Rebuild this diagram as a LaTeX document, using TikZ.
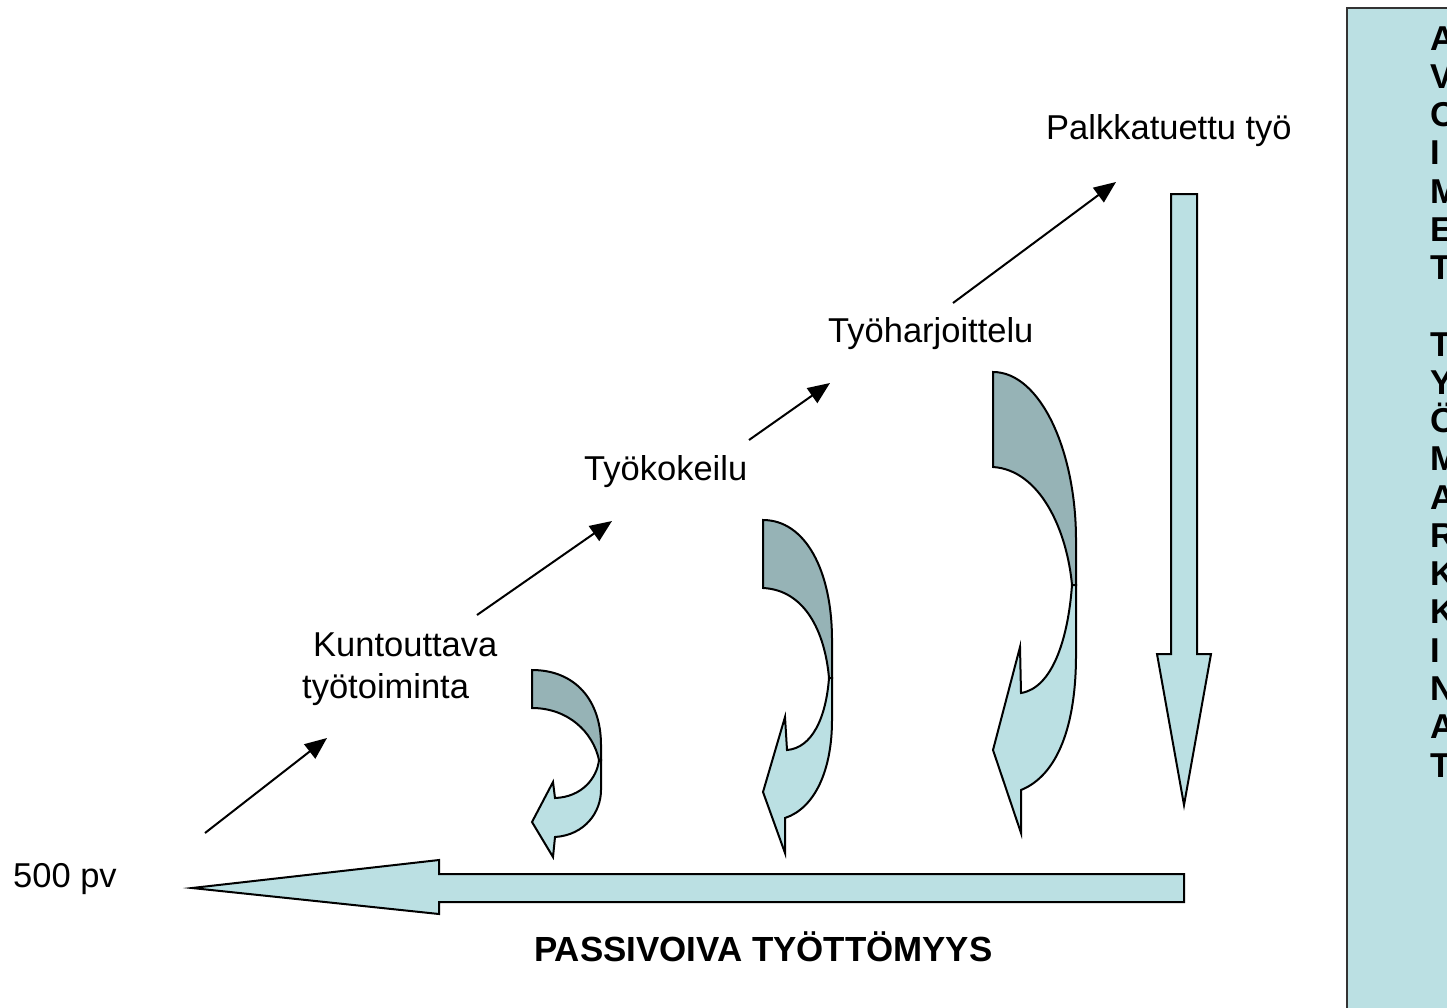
\documentclass[tikz,border=0pt]{standalone}
\usepackage{fontspec}
\setmainfont{Liberation Sans}
\usetikzlibrary{arrows.meta}
\definecolor{lightband}{RGB}{187,224,227}
\definecolor{darkband}{RGB}{150,179,182}
\tikzset{
  lbl/.style={anchor=base west, inner sep=0pt, font=\fontsize{34.5}{39}\selectfont},
  thinarrow/.style={line width=2pt, -{Triangle[length=22pt,width=18pt]}},
  blockarrow/.style={fill=lightband, draw=black, line width=2pt, line join=miter},
  backband/.style={fill=darkband, draw=black, line width=2pt},
}
\begin{document}
\begin{tikzpicture}[x=1pt,y=-1pt]
\clip (0,0) rectangle (1447,1007);
\fill[white] (0,0) rectangle (1447,1007);

% right panel
\draw[fill=lightband, draw=black!80, line width=2pt] (1347,8) rectangle (1470,1030);
\node[anchor=base west, inner sep=0pt, align=left,
      font=\fontsize{34.5}{38.26}\selectfont\bfseries] (panel) at (1430,777)
  {A\\V\\O\\I\\M\\E\\T\\[38.26pt]T\\Y\\Ö\\M\\A\\R\\K\\K\\I\\N\\A\\T};

% labels
\node[lbl] (palkka) at (1046,139) {Palkkatuettu työ};
\node[lbl] (harj) at (828,342) {Työharjoittelu};
\node[lbl] (kokeilu) at (584,480) {Työkokeilu};
\node[lbl, align=left, font=\fontsize{34.5}{42}\selectfont] (kunto) at (302,698) {\hspace{11pt}Kuntouttava\\työtoiminta};
\node[lbl] (pv) at (13,887) {500 pv};
\node[lbl, font=\fontsize{34.9}{39}\selectfont\bfseries] (passiv) at (534,961) {PASSIVOIVA TYÖTTÖMYYS};

% thin arrows
\coordinate (s1) at (205,833); \coordinate (e1) at (327,738);
\coordinate (s2) at (477,615); \coordinate (e2) at (612,521);
\coordinate (s3) at (749,440); \coordinate (e3) at (830,383);
\coordinate (s4) at (953,303); \coordinate (e4) at (1116,182);
\draw[thinarrow] (s1) -- (e1);
\draw[thinarrow] (s2) -- (e2);
\draw[thinarrow] (s3) -- (e3);
\draw[thinarrow] (s4) -- (e4);

% horizontal block arrow
\draw[blockarrow] (1184,874) -- (439,874) -- (439,860) -- (192,888) -- (439,914) -- (439,902) -- (1184,902) -- cycle;

% vertical block arrow
\draw[blockarrow] (1171,194) -- (1197,194) -- (1197,654) -- (1211,654) -- (1184,805) -- (1157,654) -- (1171,654) -- cycle;

% curved arrow 1
\draw[backband] (532,670) -- (532,708) .. controls (568,708) and (593,732) .. (599,760)
  -- (601,760) -- (601,745) .. controls (601,700) and (575,670) .. (532,670) -- cycle;
\draw[blockarrow] (599,760) .. controls (597,778) and (582,797) .. (555,798) -- (553,782)
  -- (532,822) -- (553,857) -- (555,837) .. controls (585,835) and (601,812) .. (601,790)
  -- (601,760) -- cycle;

% curved arrow 2
\draw[backband] (763,520) -- (763,588) .. controls (805,590) and (825,632) .. (829,678)
  -- (832,678) -- (832,640) .. controls (832,570) and (805,520) .. (763,520) -- cycle;
\draw[blockarrow] (829,678) .. controls (826,718) and (812,748) .. (787,750) -- (785,717)
  -- (763,792) -- (785,853) -- (785,818) .. controls (815,808) and (832,770) .. (832,720)
  -- (832,678) -- cycle;

% curved arrow 3
\draw[backband] (993,372) -- (993,467) .. controls (1040,470) and (1067,530) .. (1072,585)
  -- (1076,585) -- (1076,540) .. controls (1076,450) and (1040,372) .. (993,372) -- cycle;
\draw[blockarrow] (1072,585) .. controls (1068,640) and (1052,688) .. (1021,693) -- (1020,647)
  -- (993,750) -- (1021,833) -- (1021,790) .. controls (1058,775) and (1076,725) .. (1076,655)
  -- (1076,585) -- cycle;
\end{tikzpicture}
\end{document}
